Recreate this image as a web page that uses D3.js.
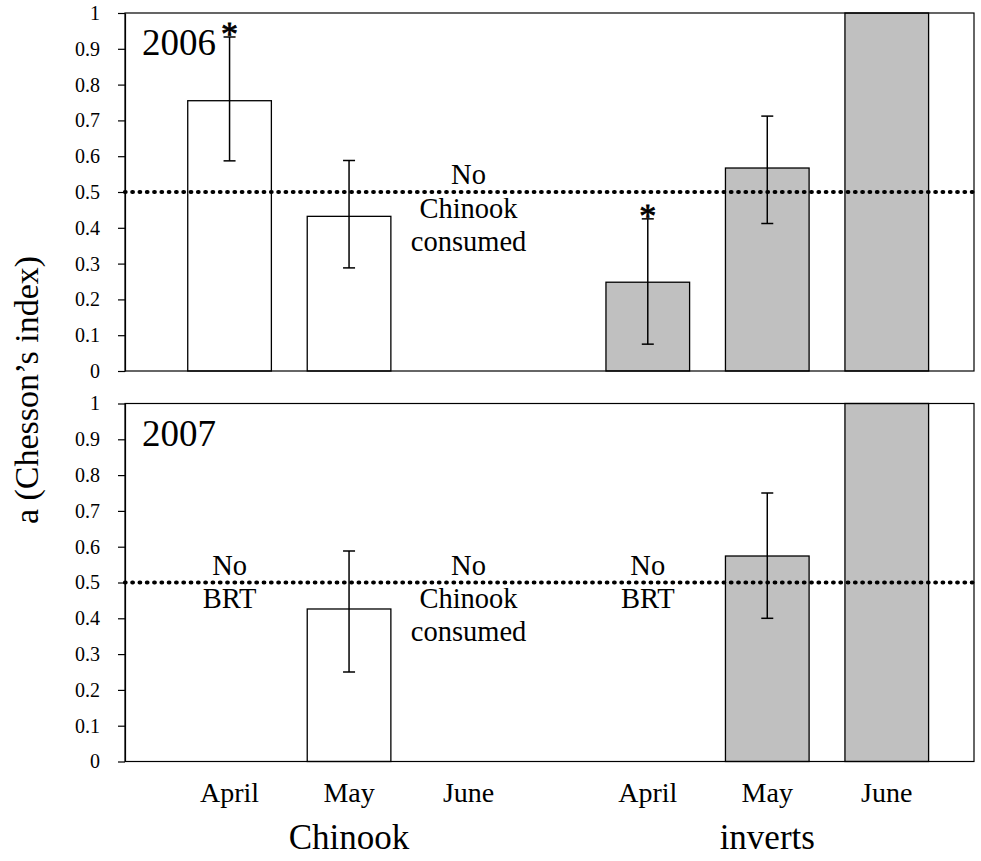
<!DOCTYPE html>
<html>
<head>
<meta charset="utf-8">
<script src="https://cdnjs.cloudflare.com/ajax/libs/d3/7.8.5/d3.min.js"></script>
<style>
  body { margin: 0; background: #fff; }
  svg text { fill: #000; }
</style>
</head>
<body>
<div id="chart"></div>
<script>
  // categorias y ticks
  var months = ["April", "May", "June"];
  var groups = ["Chinook", "inverts"];
  var years = ["2006", "2007"];
  var yTicks = [0, 0.1, 0.2, 0.3, 0.4, 0.5, 0.6, 0.7, 0.8, 0.9, 1];
  var neutral = 0.5;

  // indice de Chesson (null = sin barra)
  var chinook2006 = [0.755, 0.432, null];
  var inverts2006 = [0.248, 0.567, 1.0];
  var chinook2007 = [null, 0.426, null];
  var inverts2007 = [null, 0.574, 1.0];

  // barras de error [bajo, alto]
  var chinookErr2006 = [[0.587, 0.933], [0.288, 0.588], null];
  var invertsErr2006 = [[0.075, 0.425], [0.412, 0.712], null];
  var chinookErr2007 = [null, [0.25, 0.588], null];
  var invertsErr2007 = [null, [0.40, 0.75], null];

  // asteriscos de significancia
  var chinookStar2006 = [true, false, false];
  var invertsStar2006 = [true, false, false];
  var chinookStar2007 = [false, false, false];
  var invertsStar2007 = [false, false, false];

  // notas donde no hay barra
  var chinookNote2006 = [null, null, ["No", "Chinook", "consumed"]];
  var invertsNote2006 = [null, null, null];
  var chinookNote2007 = [["No", "BRT"], null, ["No", "Chinook", "consumed"]];
  var invertsNote2007 = [["No", "BRT"], null, null];

  var fills = ["#ffffff", "#c0c0c0"];
  var serif = "'Liberation Serif', 'DejaVu Serif', serif";

  // juntamos todo por panel
  function rows(vals, errs, stars, notes) {
    var out = [];
    groups.forEach(function(g, gi) {
      months.forEach(function(m, mi) {
        out.push({ group: gi, month: mi, value: vals[gi][mi], err: errs[gi][mi],
                   star: stars[gi][mi], note: notes[gi][mi] });
      });
    });
    return out;
  }
  var panels = [
    { year: years[0], data: rows([chinook2006, inverts2006], [chinookErr2006, invertsErr2006],
        [chinookStar2006, invertsStar2006], [chinookNote2006, invertsNote2006]) },
    { year: years[1], data: rows([chinook2007, inverts2007], [chinookErr2007, invertsErr2007],
        [chinookStar2007, invertsStar2007], [chinookNote2007, invertsNote2007]) }
  ];

  // dimensiones
  var margin = {top: 13, left: 125},
      width = 849,
      height = 358,
      gapPanels = 32.5;

  var svg = d3.select("#chart")
    .append("svg")
      .attr("width", 981)
      .attr("height", 861);

  // posicion de cada categoria (hueco de media categoria entre grupos)
  function slot(d) { return d.group * 3.5 + d.month; }
  var x = d3.scaleLinear().domain([-0.875, 6.23]).range([0, width]);
  var barW = x(0.35) - x(-0.35);

  var y = d3.scaleLinear().domain([0, 1]).range([height, 0]);

  panels.forEach(function(p, pi) {
    var g = svg.append("g")
      .attr("transform", "translate(" + margin.left + "," + (margin.top + pi * (height + gapPanels)) + ")");

    // barras
    g.selectAll(".bar")
      .data(p.data.filter(function(d) { return d.value != null; }))
      .enter().append("rect")
        .attr("x", function(d) { return x(slot(d)) - barW / 2; })
        .attr("y", function(d) { return y(d.value); })
        .attr("width", barW)
        .attr("height", function(d) { return height - y(d.value); })
        .attr("fill", function(d) { return fills[d.group]; })
        .attr("stroke", "#000")
        .attr("stroke-width", 1.3);

    // linea de 0.5 punteada
    g.append("line")
      .attr("x1", 0).attr("x2", width)
      .attr("y1", y(neutral)).attr("y2", y(neutral))
      .attr("stroke", "#000")
      .attr("stroke-width", 4.2)
      .attr("stroke-linecap", "round")
      .attr("stroke-dasharray", "0.6,6.7");

    // barras de error
    var eb = g.selectAll(".err")
      .data(p.data.filter(function(d) { return d.err; }))
      .enter().append("g")
        .attr("stroke", "#000")
        .attr("stroke-width", 1.5);
    eb.append("line")
      .attr("x1", function(d) { return x(slot(d)); })
      .attr("x2", function(d) { return x(slot(d)); })
      .attr("y1", function(d) { return y(d.err[0]); })
      .attr("y2", function(d) { return y(d.err[1]); });
    [0, 1].forEach(function(k) {
      eb.append("line")
        .attr("x1", function(d) { return x(slot(d)) - 6; })
        .attr("x2", function(d) { return x(slot(d)) + 6; })
        .attr("y1", function(d) { return y(d.err[k]); })
        .attr("y2", function(d) { return y(d.err[k]); });
    });

    // asteriscos
    g.selectAll(".star")
      .data(p.data.filter(function(d) { return d.star; }))
      .enter().append("text")
        .attr("x", function(d) { return x(slot(d)); })
        .attr("y", function(d) { return y(d.err[1]) + 8; })
        .attr("text-anchor", "middle")
        .attr("font-family", serif)
        .attr("stroke", "#000")
        .attr("stroke-width", 0.8)
        .style("font-size", "34px")
        .text("*");

    // notas
    var notes = g.selectAll(".note")
      .data(p.data.filter(function(d) { return d.note; }))
      .enter().append("text")
        .attr("text-anchor", "middle")
        .attr("font-family", serif)
        .style("font-size", "28.5px");
    notes.selectAll("tspan")
      .data(function(d) { return d.note.map(function(t, i) { return {t: t, i: i, d: d}; }); })
      .enter().append("tspan")
        .attr("x", function(e) { return x(slot(e.d)); })
        .attr("y", function(e) { return y(neutral) + (e.i === 0 ? -8 : 25.5 + (e.i - 1) * 33); })
        .text(function(e) { return e.t; });

    // marco
    g.append("rect")
      .attr("width", width).attr("height", height)
      .attr("fill", "none")
      .attr("stroke", "#000")
      .attr("stroke-width", 1.2);

    // eje y
    var yAxis = g.append("g")
      .call(d3.axisLeft(y)
        .tickValues(yTicks)
        .tickSize(7)
        .tickSizeOuter(0)
        .tickPadding(18)
        .tickFormat(function(d) { return d === 0 || d === 1 ? String(d) : d3.format(".1f")(d); }));
    yAxis.attr("font-family", serif).attr("font-size", null);
    yAxis.selectAll("text").style("font-size", "20px");
    yAxis.selectAll("line, path").attr("stroke", "#000").attr("stroke-width", 1.2);

    // anio
    g.append("text")
      .attr("x", 17)
      .attr("y", 42)
      .attr("font-family", serif)
      .style("font-size", "37px")
      .text(p.year);

    // etiquetas de meses y grupos solo abajo
    if (pi === panels.length - 1) {
      g.selectAll(".month")
        .data(p.data)
        .enter().append("text")
          .attr("x", function(d) { return x(slot(d)); })
          .attr("y", height + 40.5)
          .attr("text-anchor", "middle")
          .attr("font-family", serif)
          .style("font-size", "28px")
          .text(function(d) { return months[d.month]; });

      g.selectAll(".group")
        .data(groups)
        .enter().append("text")
          .attr("x", function(d, i) { return x(i * 3.5 + 1); })
          .attr("y", height + 87.5)
          .attr("text-anchor", "middle")
          .attr("font-family", serif)
          .style("font-size", "35px")
          .text(function(d) { return d; });
    }
  });

  // titulo eje y
  svg.append("text")
    .attr("transform", "rotate(-90)")
    .attr("x", -390)
    .attr("y", 38)
    .attr("text-anchor", "middle")
    .attr("font-family", serif)
    .style("font-size", "34px")
    .text("a (Chesson\u2019s index)");
</script>
</body>
</html>
